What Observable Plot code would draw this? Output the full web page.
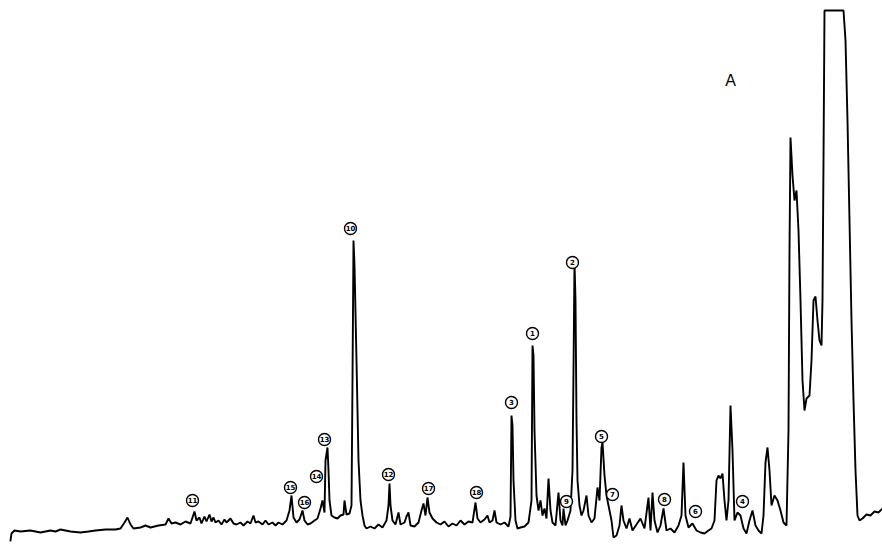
<!DOCTYPE html>
<html>
<head>
<meta charset="utf-8">
<script src="https://cdn.jsdelivr.net/npm/d3@7"></script>
<script src="https://cdn.jsdelivr.net/npm/@observablehq/plot@0.6"></script>
<style>
  html, body { margin: 0; padding: 0; background: #ffffff; }
  #chart { width: 882px; height: 548px; overflow: hidden; }
</style>
</head>
<body>
<div id="chart"></div>
<script>
// Retention time (arbitrary units)
const time = [
  10,11,14,20,30,40,50,55,60,70,80,88,95,105,115,120,124,127,130,133,140,145,150,158,165,168,171,175,180,185,190,194,196,199,201,204,206,209,211,213,215,218,221,224,226,230,233,236,240,243,247,250,253,255,258,262,265,268,272,275,278,282,286,289,291,293,296,299,302,304,307,310,314,317,320,322,324,325,327,328,329,331,334,337,340,343,344,346,349,351,352,353,354,356,358,360,362,364,366,370,374,378,382,386,388,389,390,392,395,398,400,404,406,408,410,414,418,421,423,425,427,429,432,436,440,444,448,452,456,460,464,468,472,475,477,480,484,487,489,492,494,496,500,504,508,510,511,512,513,515,517,520,524,528,531,532,533,534,536,538,540,542,544,546,548,550,552,555,558,560,562,563,565,567,570,572,573,574,575,576,577,579,581,583,586,588,591,594,597,599,601,602,604,606,608,611,613,616,619,621,623,626,629,632,636,640,644,648,650,652,654,657,660,663,666,670,674,678,681,683,685,688,692,696,700,704,708,711,714,716,718,720,722,724,726,728,730,732,734,737,740,743,746,749,752,755,758,761,763,765,767,769,771,774,777,780,783,786,788,789,790,792,794,796,798,800,802,804,806,809,811,813,815,817,819,821,822,823,824,843,845,847,849,851,853,855,857,859,862,866,870,874,878,882
];
// Detector response (arbitrary units, baseline ~0)
const response = [
  -10,-3,0,-1,0,-2,0,-1,1,-1,-2,-1,0,1,1,2,8,13,6,2,3,5,3,5,6,12,7,8,6,9,7,19,10,13,7,14,9,16,9,13,8,10,6,11,8,12,7,6,8,5,9,7,15,8,9,6,10,6,8,5,8,6,10,20,35,13,8,11,20,10,6,7,10,12,22,30,18,70,83,60,30,15,13,12,15,16,30,16,17,25,150,290,265,170,70,30,15,5,2,4,2,6,3,10,25,47,25,10,6,18,6,8,14,18,5,4,8,20,27,15,33,18,12,8,6,9,4,7,5,10,6,9,8,28,12,8,11,15,8,10,20,8,6,8,4,14,115,105,50,10,2,3,4,8,30,185,175,100,35,20,30,15,22,12,52,20,8,5,38,10,5,22,5,10,20,60,160,268,230,110,50,25,15,20,35,15,8,12,43,30,83,88,55,35,25,10,-7,-5,5,25,10,2,12,0,6,12,2,33,0,38,10,-2,5,22,0,2,-2,5,15,68,15,3,7,0,-2,-3,0,2,10,50,55,52,57,30,10,30,125,80,10,18,15,2,-3,10,20,5,0,-3,15,68,83,60,25,35,30,20,8,5,100,280,393,355,330,340,300,230,150,120,132,135,170,230,234,210,190,185,230,370,520,520,490,410,310,210,130,60,15,10,12,16,15,19,18,22
];

// Circled peak numbers
const peakTime  = [192, 290, 304, 316, 324, 350, 388, 428, 476, 511, 532, 572, 566, 601, 612, 664, 695, 742];
const peakLevel = [30, 43, 28, 54, 91, 302, 56, 42, 38, 128, 197, 268, 29, 94, 36, 31, 19, 29];
const peakLabel = ["11","15","16","14","13","10","12","17","18","3","1","2","9","5","7","8","6","4"];

// Panel letter
const panelTime = [730];
const panelLevel = [450];
const panelLabel = ["A"];

const trace = time.map((t, i) => ({time: t, response: response[i]}));
const peaks = peakTime.map((t, i) => ({time: t, level: peakLevel[i], label: peakLabel[i]}));
const panel = panelTime.map((t, i) => ({time: t, level: panelLevel[i], label: panelLabel[i]}));

const chart = Plot.plot({
  width: 882,
  height: 548,
  marginTop: 0,
  marginRight: 0,
  marginBottom: 0,
  marginLeft: 0,
  style: {background: "#ffffff"},
  x: {domain: [0, 882], axis: null},
  y: {domain: [-18, 530], axis: null},
  marks: [
    Plot.line(trace, {x: "time", y: "response", stroke: "#000", strokeWidth: 1.9, strokeLinejoin: "miter", strokeLinecap: "square"}),
    Plot.dot(peaks, {x: "time", y: "level", r: 6, fill: "#fff", stroke: "#000", strokeWidth: 1.4}),
    Plot.text(peaks, {x: "time", y: "level", text: "label", fontSize: 7, fontWeight: "bold", fill: "#000", fontFamily: "DejaVu Sans"}),
    Plot.text(panel, {x: "time", y: "level", text: "label", fontSize: 16, fill: "#000", fontFamily: "Liberation Sans"})
  ]
});
document.getElementById("chart").appendChild(chart);
</script>
</body>
</html>
